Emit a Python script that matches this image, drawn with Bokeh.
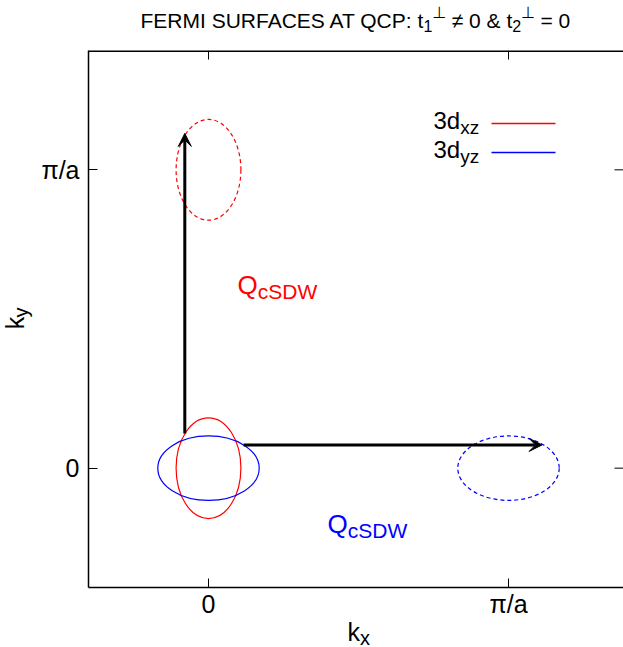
from bokeh.plotting import figure
from bokeh.models import (Range1d, FixedTicker, Label, Arrow, VeeHead, ColumnDataSource)
from bokeh.layouts import column, row
from bokeh.embed import file_html
from bokeh.resources import INLINE
import math

# ---------------- data ----------------
k_ticks = [0, 1]
k_tick_labels = ["0", "π/a"]

# Fermi surface ellipses (centres and full axes, in units of pi/a)
fs_kx = [0.0, 0.0, 0.0, 1.0]
fs_ky = [0.0, 0.0, 1.0, 0.0]
fs_w = [0.216, 0.338, 0.216, 0.338]
fs_h = [0.338, 0.216, 0.338, 0.216]
fs_orbital = ["xz", "yz", "xz", "yz"]
fs_dashed = [False, False, True, True]

# nesting vectors Q_cSDW (arrows)
q_x0 = [-0.079, 0.117]
q_y0 = [0.116, 0.078]
q_x1 = [-0.079, 1.112]
q_y1 = [1.122, 0.078]

orbital_names = ["xz", "yz"]
orbital_colors = {"xz": "#ff0000", "yz": "#0000ff"}

# ---------------- geometry ----------------
FONT = "Liberation Sans"
SYM_FONT = "DejaVu Sans"
XMIN, XMAX = -0.4, 1.38333
YMIN, YMAX = -0.4, 1.4
FL, FT = 88, 50            # page px of frame left / top
SX, SY = 300.0, 537 / 1.8  # px per unit
TOP_H = 50                 # title strip
LEFT_W = 36                # k_y strip
MAIN_H = 570               # main figure height (page y 50..620)
BOT_H = 647 - TOP_H - MAIN_H

def X(px):
    return (px - FL) / SX + XMIN

def Y(py):
    return YMAX - (py - FT) / SY

def text_fig(w, h, x0, y0):
    f = figure(width=w, height=h, x_range=Range1d(x0, x0 + w), y_range=Range1d(y0 + h, y0),
               output_backend="svg", toolbar_location=None, min_border=0,
               x_axis_location=None, y_axis_location=None)
    f.grid.visible = False
    f.outline_line_color = None
    f.background_fill_color = "white"
    f.border_fill_color = "white"
    return f

title_fig = text_fig(623, TOP_H, 0, 0)
ky_fig = text_fig(LEFT_W, MAIN_H, 0, TOP_H)
kx_fig = text_fig(623, BOT_H, 0, TOP_H + MAIN_H)

p = figure(width=623 - LEFT_W, height=MAIN_H, x_range=Range1d(XMIN, XMAX),
           y_range=Range1d(YMIN, YMAX), output_backend="svg", toolbar_location=None,
           min_border_left=FL - LEFT_W, min_border_right=0, min_border_top=0,
           min_border_bottom=MAIN_H - 537)
p.grid.visible = False
p.outline_line_color = None
p.background_fill_color = "white"
p.border_fill_color = "white"

for ax in (p.xaxis[0], p.yaxis[0]):
    ax.ticker = FixedTicker(ticks=k_ticks)
    ax.major_label_overrides = {t: l for t, l in zip(k_ticks, k_tick_labels)}
    ax.major_tick_in = 9
    ax.major_tick_out = 0
    ax.minor_tick_line_color = None
    ax.axis_line_width = 1.5
    ax.axis_line_color = "black"
    ax.major_tick_line_color = "black"
    ax.major_label_text_font = FONT
    ax.major_label_text_font_size = "25px"
    ax.major_label_text_color = "black"
p.xaxis[0].major_label_standoff = 2
p.yaxis[0].major_label_standoff = 9

# top border and mirrored ticks (top and right)
p.segment(x0=[XMIN], x1=[XMAX], y0=[YMAX], y1=[YMAX], line_color="black", line_width=3)
p.segment(x0=k_ticks, x1=k_ticks, y0=[YMAX - 9 / SY] * len(k_ticks), y1=[YMAX] * len(k_ticks),
          line_color="black", line_width=1)
p.segment(x0=[XMAX - 9 / SX] * len(k_ticks), x1=[XMAX] * len(k_ticks), y0=k_ticks, y1=k_ticks,
          line_color="black", line_width=1)

# ellipses
solid = [i for i, d in enumerate(fs_dashed) if not d]
dashed = [i for i, d in enumerate(fs_dashed) if d]
for idx, dash in ((solid, "solid"), (dashed, "4 3")):
    s = ColumnDataSource(dict(x=[fs_kx[i] for i in idx], y=[fs_ky[i] for i in idx],
                              w=[fs_w[i] for i in idx], h=[fs_h[i] for i in idx],
                              c=[orbital_colors[fs_orbital[i]] for i in idx]))
    p.ellipse(x="x", y="y", width="w", height="h", source=s, fill_color=None,
              line_color="c", line_width=1.2, line_dash=dash)

# arrows
asrc = ColumnDataSource(dict(x0=q_x0, y0=q_y0, x1=q_x1, y1=q_y1))
p.add_layout(Arrow(x_start="x0", y_start="y0", x_end="x1", y_end="y1", source=asrc,
                   line_width=3, line_color="black",
                   end=VeeHead(size=13, fill_color="black", line_color="black", line_width=1)))

# ---------------- rich text helper ----------------
WID = {' ': .278, 'F': .611, 'E': .667, 'R': .722, 'M': .833, 'I': .278, 'S': .667, 'U': .722,
       'A': .667, 'C': .722, 'T': .611, 'Q': .778, 'P': .667, ':': .278, 't': .278, '1': .556,
       '2': .556, '0': .556, '3': .556, '≠': .549, '&': .667, '=': .584, '⊥': .838, 'k': .5,
       'x': .5, 'y': .5, 'z': .5, 'd': .556, 'c': .5, 'D': .722, 'W': .944}

def tw(s, size):
    return sum(WID.get(ch, 0.6) for ch in s) * size

def rich(fig, px, py, pieces, color="black", rotated=False, conv=None):
    adv = 0.0
    for piece in pieces:
        t, sz, dy = piece[:3]
        font = piece[3] if len(piece) > 3 else FONT
        kern = piece[4] if len(piece) > 4 else 0
        adv += kern
        lead = len(t) - len(t.lstrip(" "))
        adv += tw(" " * lead, sz)
        t = t.lstrip(" ")
        if rotated:
            x, y = px + dy, py - adv
        else:
            x, y = px + adv, py + dy
        if conv:
            x, y = X(x), Y(y)
        fig.add_layout(Label(x=x, y=y, text=t, text_font=font, text_font_size=f"{sz}px",
                             text_color=color, text_baseline="alphabetic", text_align="left",
                             angle=math.pi / 2 if rotated else 0))
        adv += tw(t, sz)

# title
rich(title_fig, 140, 20, [("FERMI SURFACES AT QCP: t", 21, 0), ("1", 16, 5, FONT, -4),
                          ("⊥", 16, -8, SYM_FONT), (" ≠ 0 & t", 21, 0), ("2", 16, 5),
                          ("⊥", 16, -8, SYM_FONT), (" = 0", 21, 0)])
# axis labels
rich(kx_fig, 347, 631, [("k", 25, 0), ("x", 20, 6)])
rich(ky_fig, 14, 346, [("k", 25, 0), ("y", 20, 6)], rotated=True)

# Q labels
rich(p, 237, 284, [("Q", 26, 0), ("cSDW", 21, 7)], color=orbital_colors["xz"], conv=True)
rich(p, 327, 523, [("Q", 26, 0), ("cSDW", 21, 7)], color=orbital_colors["yz"], conv=True)

# legend
leg_y = [123, 152]
for i, o in enumerate(orbital_names):
    rich(p, 433, leg_y[i] - 3, [("3d", 24, 0), (o, 19, 7)], conv=True)
    p.line(x=[X(491), X(555)], y=[Y(leg_y[i])] * 2, line_color=orbital_colors[o],
           line_width=1.3)

layout = column(title_fig, row(ky_fig, p), kx_fig)
open("out.html", "w").write(file_html(layout, INLINE))
